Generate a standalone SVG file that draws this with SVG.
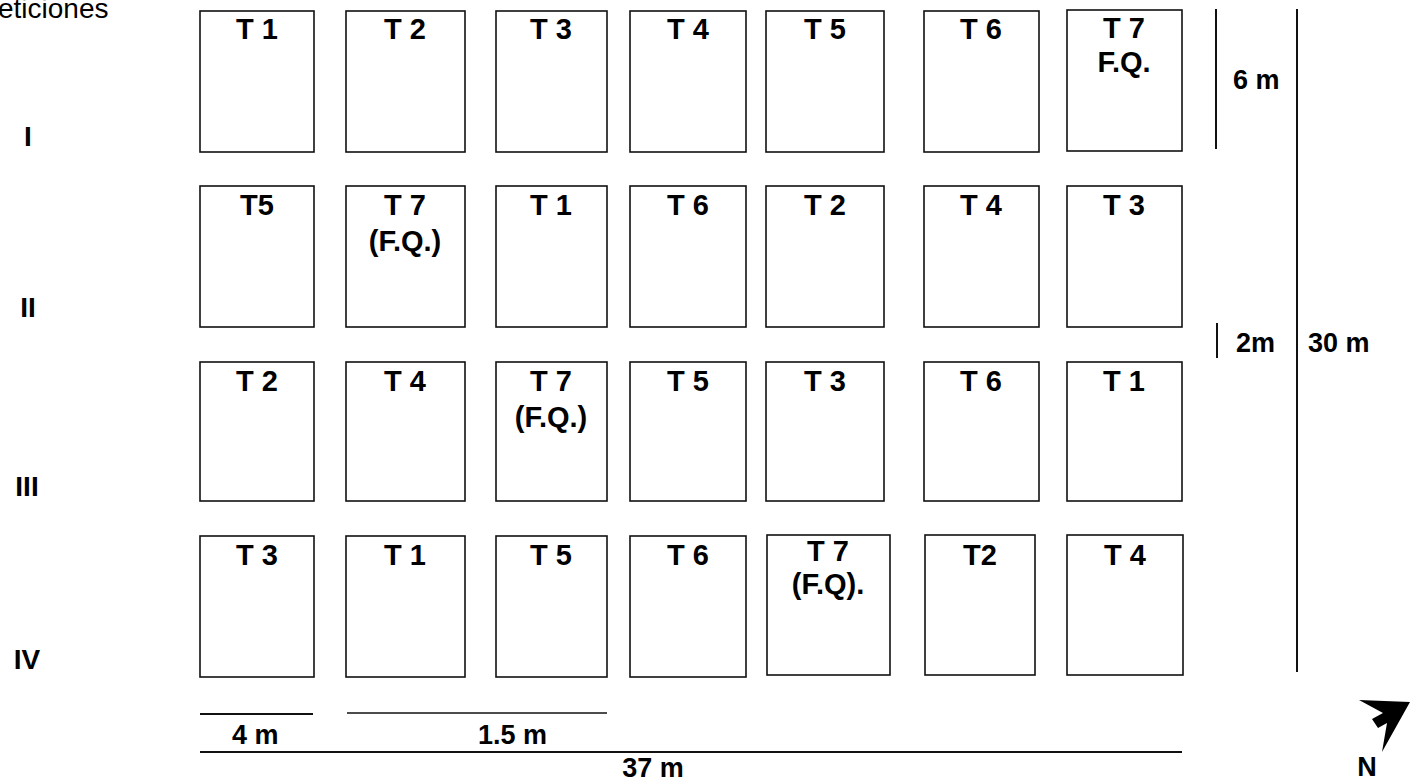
<svg xmlns="http://www.w3.org/2000/svg" width="1419" height="783" viewBox="0 0 1419 783">
<style>
.plot{fill:#fff;stroke:#111;stroke-width:1.6}
.lbl{font-family:"Liberation Sans",Arial,sans-serif;font-weight:bold;font-size:29px;fill:#000;text-anchor:middle}
.dim{font-family:"Liberation Sans",Arial,sans-serif;font-weight:bold;font-size:27px;fill:#000}
.rep{font-family:"Liberation Sans",Arial,sans-serif;font-weight:bold;font-size:28px;fill:#000;text-anchor:middle}
.line{stroke:#111;stroke-width:2;fill:none}
</style>
<rect width="1419" height="783" fill="#fff"/>
<text x="-2" y="18" font-family="Liberation Sans, Arial, sans-serif" font-size="28" fill="#000">eticiones</text>
<g id="rep-labels">
<text class="rep" x="28" y="146">I</text>
<text class="rep" x="28" y="317">II</text>
<text class="rep" x="27" y="496">III</text>
<text class="rep" x="27" y="669">IV</text>
</g>
<!-- Row I -->
<g id="r1c1"><rect class="plot" x="200" y="11" width="114" height="141"/><text class="lbl" x="257" y="39">T 1</text></g>
<g id="r1c2"><rect class="plot" x="346" y="11" width="119" height="141"/><text class="lbl" x="405" y="39">T 2</text></g>
<g id="r1c3"><rect class="plot" x="496" y="11" width="111" height="141"/><text class="lbl" x="551" y="39">T 3</text></g>
<g id="r1c4"><rect class="plot" x="630" y="11" width="116" height="141"/><text class="lbl" x="688" y="39">T 4</text></g>
<g id="r1c5"><rect class="plot" x="766" y="11" width="118" height="141"/><text class="lbl" x="825" y="39">T 5</text></g>
<g id="r1c6"><rect class="plot" x="924" y="11" width="115" height="141"/><text class="lbl" x="981" y="39">T 6</text></g>
<g id="r1c7"><rect class="plot" x="1067" y="10" width="115" height="141"/><text class="lbl" x="1124" y="38">T 7</text><text class="lbl" x="1124" y="72">F.Q.</text></g>
<!-- Row II -->
<g id="r2c1"><rect class="plot" x="200" y="186" width="114" height="141"/><text class="lbl" x="257" y="215">T5</text></g>
<g id="r2c2"><rect class="plot" x="346" y="186" width="119" height="141"/><text class="lbl" x="405" y="215">T 7</text><text class="lbl" x="405" y="251">(F.Q.)</text></g>
<g id="r2c3"><rect class="plot" x="496" y="186" width="111" height="141"/><text class="lbl" x="551" y="215">T 1</text></g>
<g id="r2c4"><rect class="plot" x="630" y="186" width="116" height="141"/><text class="lbl" x="688" y="215">T 6</text></g>
<g id="r2c5"><rect class="plot" x="766" y="186" width="118" height="141"/><text class="lbl" x="825" y="215">T 2</text></g>
<g id="r2c6"><rect class="plot" x="924" y="186" width="115" height="141"/><text class="lbl" x="981" y="215">T 4</text></g>
<g id="r2c7"><rect class="plot" x="1067" y="186" width="115" height="141"/><text class="lbl" x="1124" y="215">T 3</text></g>
<!-- Row III -->
<g id="r3c1"><rect class="plot" x="200" y="362" width="114" height="139"/><text class="lbl" x="257" y="391">T 2</text></g>
<g id="r3c2"><rect class="plot" x="346" y="362" width="119" height="139"/><text class="lbl" x="405" y="391">T 4</text></g>
<g id="r3c3"><rect class="plot" x="496" y="362" width="111" height="139"/><text class="lbl" x="551" y="391">T 7</text><text class="lbl" x="551" y="427">(F.Q.)</text></g>
<g id="r3c4"><rect class="plot" x="630" y="362" width="116" height="139"/><text class="lbl" x="688" y="391">T 5</text></g>
<g id="r3c5"><rect class="plot" x="766" y="362" width="118" height="139"/><text class="lbl" x="825" y="391">T 3</text></g>
<g id="r3c6"><rect class="plot" x="924" y="362" width="115" height="139"/><text class="lbl" x="981" y="391">T 6</text></g>
<g id="r3c7"><rect class="plot" x="1067" y="362" width="115" height="139"/><text class="lbl" x="1124" y="391">T 1</text></g>
<!-- Row IV -->
<g id="r4c1"><rect class="plot" x="200" y="536" width="114" height="141"/><text class="lbl" x="257" y="565">T 3</text></g>
<g id="r4c2"><rect class="plot" x="346" y="536" width="119" height="141"/><text class="lbl" x="405" y="565">T 1</text></g>
<g id="r4c3"><rect class="plot" x="496" y="536" width="111" height="141"/><text class="lbl" x="551" y="565">T 5</text></g>
<g id="r4c4"><rect class="plot" x="630" y="536" width="116" height="141"/><text class="lbl" x="688" y="565">T 6</text></g>
<g id="r4c5"><rect class="plot" x="767" y="535" width="123" height="140"/><text class="lbl" x="828" y="561">T 7</text><text class="lbl" x="828" y="594">(F.Q).</text></g>
<g id="r4c6"><rect class="plot" x="925" y="535" width="110" height="140"/><text class="lbl" x="980" y="565">T2</text></g>
<g id="r4c7"><rect class="plot" x="1067" y="535" width="116" height="140"/><text class="lbl" x="1125" y="565">T 4</text></g>
<g id="dimensions">
<line class="line" x1="1216" y1="9" x2="1216" y2="149"/>
<line class="line" x1="1297" y1="9" x2="1297" y2="672"/>
<line class="line" x1="1217" y1="323" x2="1217" y2="358"/>
<line class="line" x1="200" y1="714" x2="313" y2="714"/>
<line stroke="#111" stroke-width="1.5" x1="347" y1="713" x2="607" y2="713"/>
<line class="line" x1="200" y1="752" x2="1182" y2="752"/>
<text class="dim" x="1233" y="89">6 m</text>
<text class="dim" x="1236" y="352">2m</text>
<text class="dim" x="1308" y="352">30 m</text>
<text class="dim" x="232" y="744">4 m</text>
<text class="dim" x="478" y="744">1.5 m</text>
<text class="dim" x="653" y="777" font-size="26" text-anchor="middle">37 m</text>
</g>
<g id="north">
<polygon points="1410,702 1359,700 1383,713 1372,719 1378,728 1387,723 1382,752" fill="#000"/>
<text class="dim" x="1367" y="776" font-size="24" text-anchor="middle">N</text>
</g>
</svg>
